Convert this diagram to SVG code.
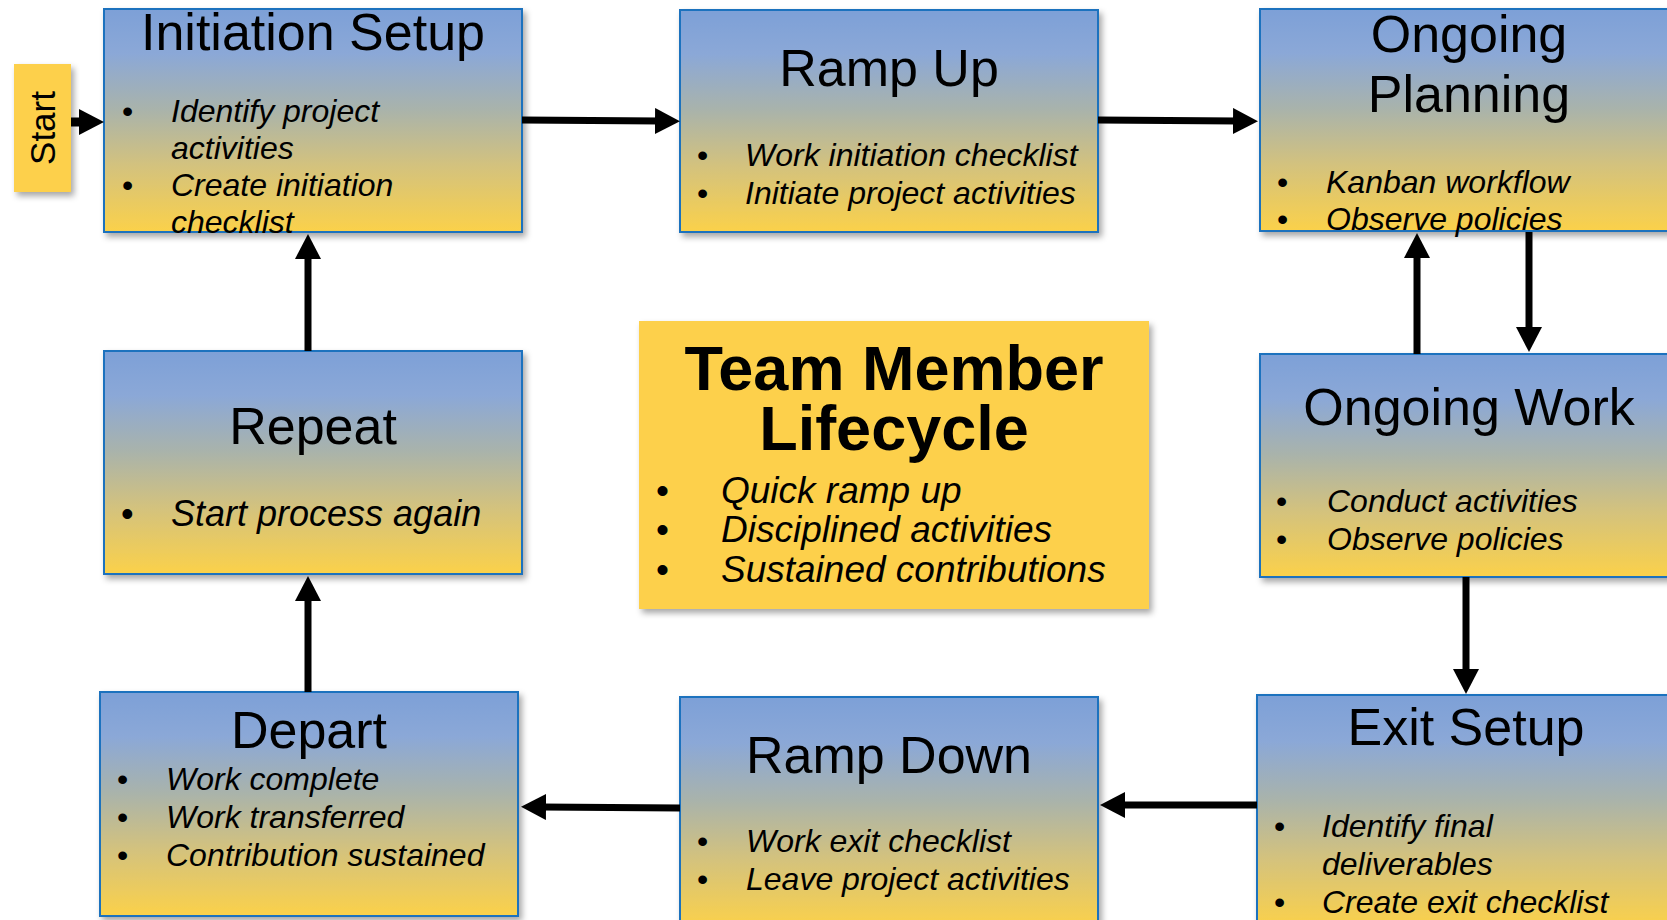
<svg xmlns="http://www.w3.org/2000/svg" width="1667" height="920" viewBox="0 0 1667 920">
<defs>
<linearGradient id="g" x1="0" y1="0" x2="0" y2="1">
<stop offset="0" stop-color="#7DA0D7"/>
<stop offset="0.2" stop-color="#8BA8D7"/>
<stop offset="0.45" stop-color="#A9B3AB"/>
<stop offset="0.7" stop-color="#D3C27E"/>
<stop offset="1" stop-color="#FBD14A"/>
</linearGradient>
<filter id="sh" x="-10%" y="-10%" width="125%" height="130%">
<feDropShadow dx="3" dy="4" stdDeviation="3" flood-color="#000" flood-opacity="0.35"/>
</filter>
<marker id="ah" viewBox="0 0 25 26" refX="5" refY="13" markerWidth="25" markerHeight="26" markerUnits="userSpaceOnUse" orient="auto">
<path d="M0,0 L25,13 L0,26 z" fill="#000"/>
</marker>
</defs>
<style>
.box{fill:url(#g);stroke:#1F72BE;stroke-width:2;filter:url(#sh)}
.gold{fill:#FDD04B;filter:url(#sh)}
text{font-family:"Liberation Sans",Arial,sans-serif;fill:#000}
.t{font-size:52px;text-anchor:middle}
.b{font-size:32px;font-style:italic}
.d{font-size:32px}
.ct{font-size:63px;font-weight:bold;text-anchor:middle}
.cb{font-size:37px;font-style:italic}
.cd{font-size:37px}
.c line{stroke:#000;stroke-width:7}
</style>
<rect width="1667" height="920" fill="#fff"/>

<g id="start">
<rect class="gold" x="14" y="64" width="57" height="128"/>
<text transform="translate(55,128) rotate(-90)" text-anchor="middle" font-size="35">Start</text>
</g>

<g id="initiation-setup">
<rect class="box" x="104" y="9" width="418" height="223"/>
<text class="t" x="313" y="50">Initiation Setup</text>
<text class="d" x="122" y="122">•</text><text class="b" x="171" y="122">Identify project</text>
<text class="b" x="171" y="159">activities</text>
<text class="d" x="122" y="196">•</text><text class="b" x="171" y="196">Create initiation</text>
<text class="b" x="171" y="233">checklist</text>
</g>

<g id="ramp-up">
<rect class="box" x="680" y="10" width="418" height="222"/>
<text class="t" x="889" y="86">Ramp Up</text>
<text class="d" x="697" y="166">•</text><text class="b" x="745" y="166">Work initiation checklist</text>
<text class="d" x="697" y="204">•</text><text class="b" x="745" y="204">Initiate project activities</text>
</g>

<g id="ongoing-planning">
<rect class="box" x="1260" y="9" width="418" height="222"/>
<text class="t" x="1469" y="52">Ongoing</text>
<text class="t" x="1469" y="112">Planning</text>
<text class="d" x="1277" y="193">•</text><text class="b" x="1326" y="193">Kanban workflow</text>
<text class="d" x="1277" y="230">•</text><text class="b" x="1326" y="230">Observe policies</text>
</g>

<g id="repeat">
<rect class="box" x="104" y="351" width="418" height="223"/>
<text class="t" x="313" y="444">Repeat</text>
<text class="cd" x="121" y="526" style="font-size:36px">•</text><text class="cb" x="171" y="526" style="font-size:36px">Start process again</text>
</g>

<g id="lifecycle">
<rect class="gold" x="639" y="321" width="510" height="288"/>
<text class="ct" x="894" y="390">Team Member</text>
<text class="ct" x="894" y="450">Lifecycle</text>
<text class="cd" x="656" y="503">•</text><text class="cb" x="721" y="503">Quick ramp up</text>
<text class="cd" x="656" y="542">•</text><text class="cb" x="721" y="542">Disciplined activities</text>
<text class="cd" x="656" y="582">•</text><text class="cb" x="721" y="582">Sustained contributions</text>
</g>

<g id="ongoing-work">
<rect class="box" x="1260" y="354" width="418" height="223"/>
<text class="t" x="1469" y="425">Ongoing Work</text>
<text class="d" x="1276" y="512">•</text><text class="b" x="1327" y="512">Conduct activities</text>
<text class="d" x="1276" y="550">•</text><text class="b" x="1327" y="550">Observe policies</text>
</g>

<g id="depart">
<rect class="box" x="100" y="692" width="418" height="224"/>
<text class="t" x="309" y="748">Depart</text>
<text class="d" x="117" y="790">•</text><text class="b" x="166" y="790">Work complete</text>
<text class="d" x="117" y="828">•</text><text class="b" x="166" y="828">Work transferred</text>
<text class="d" x="117" y="866">•</text><text class="b" x="166" y="866">Contribution sustained</text>
</g>

<g id="ramp-down">
<rect class="box" x="680" y="697" width="418" height="230"/>
<text class="t" x="889" y="773">Ramp Down</text>
<text class="d" x="697" y="852">•</text><text class="b" x="746" y="852">Work exit checklist</text>
<text class="d" x="697" y="890">•</text><text class="b" x="746" y="890">Leave project activities</text>
</g>

<g id="exit-setup">
<rect class="box" x="1257" y="695" width="418" height="232"/>
<text class="t" x="1466" y="745">Exit Setup</text>
<text class="d" x="1274" y="837">•</text><text class="b" x="1322" y="837">Identify final</text>
<text class="b" x="1322" y="875">deliverables</text>
<text class="d" x="1274" y="913">•</text><text class="b" x="1322" y="913">Create exit checklist</text>
</g>

<g id="connectors" class="c">
<line x1="71" y1="122" x2="84" y2="122" marker-end="url(#ah)" style="stroke-width:9"/>
<line x1="522" y1="120" x2="660" y2="121" marker-end="url(#ah)"/>
<line x1="1098" y1="120" x2="1238" y2="121" marker-end="url(#ah)"/>
<line x1="1529" y1="232" x2="1529" y2="332" marker-end="url(#ah)"/>
<line x1="1417" y1="354" x2="1417" y2="253" marker-end="url(#ah)"/>
<line x1="1466" y1="577" x2="1466" y2="674" marker-end="url(#ah)"/>
<line x1="1257" y1="805" x2="1120" y2="805" marker-end="url(#ah)"/>
<line x1="680" y1="808" x2="541" y2="807" marker-end="url(#ah)"/>
<line x1="308" y1="692" x2="308" y2="596" marker-end="url(#ah)"/>
<line x1="308" y1="351" x2="308" y2="254" marker-end="url(#ah)"/>
</g>
</svg>
